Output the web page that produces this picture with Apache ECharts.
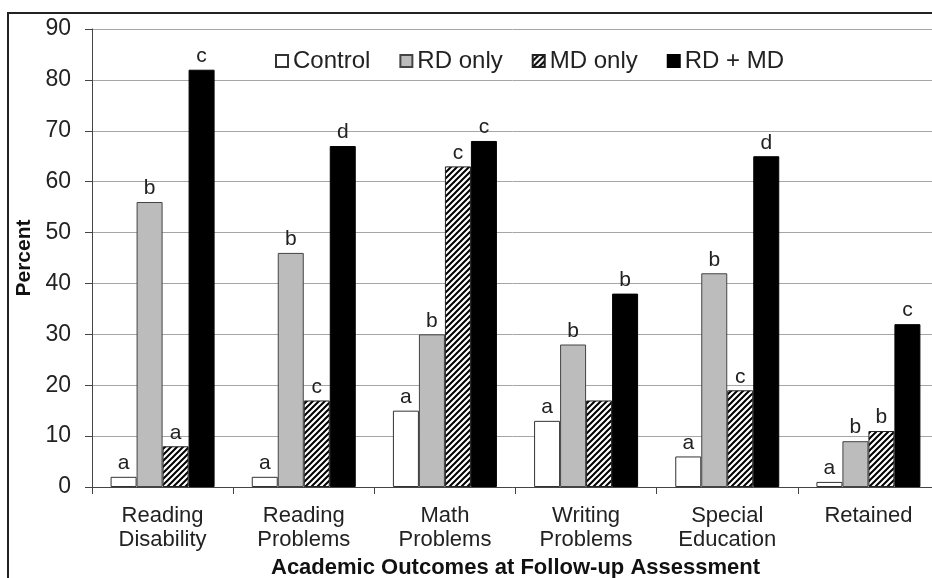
<!DOCTYPE html>
<html>
<head>
<meta charset="utf-8">
<script src="https://cdn.jsdelivr.net/npm/echarts@6/dist/echarts.min.js"></script>
<style>
  html, body { margin: 0; padding: 0; background: #fff; }
  #main { width: 932px; height: 578px; }
</style>
</head>
<body>
<div id="main"></div>
<script>
const categories = [
  "Reading\nDisability",
  "Reading\nProblems",
  "Math\nProblems",
  "Writing\nProblems",
  "Special\nEducation",
  "Retained"
];
const control = [2, 2, 15, 13, 6, 1];
const rdOnly = [56, 46, 30, 28, 42, 9];
const mdOnly = [8, 17, 63, 17, 19, 11];
const rdMd = [82, 67, 68, 38, 65, 32];

// significance letters shown above bars
const controlLetters = ["a", "a", "a", "a", "a", "a"];
const rdOnlyLetters = ["b", "b", "b", "b", "b", "b"];
const mdOnlyLetters = ["a", "c", "c", "", "c", "b"];
const rdMdLetters = ["c", "d", "c", "b", "d", "c"];

const yTicks = { min: 0, max: 90, interval: 10 };

// diagonal hatch for MD only
function makeHatch() {
  const c = document.createElement("canvas");
  c.width = 6;
  c.height = 6;
  const ctx = c.getContext("2d");
  ctx.fillStyle = "#fff";
  ctx.fillRect(0, 0, 6, 6);
  ctx.strokeStyle = "#000";
  ctx.lineWidth = 2;
  ctx.beginPath();
  ctx.moveTo(-1, 7); ctx.lineTo(7, -1);
  ctx.moveTo(-4, 4); ctx.lineTo(4, -4);
  ctx.moveTo(2, 10); ctx.lineTo(10, 2);
  ctx.stroke();
  return c;
}
const hatch = { image: makeHatch(), repeat: "repeat" };

const font = "Liberation Sans, Arial, sans-serif";

function labelFor(letters) {
  return {
    show: true,
    position: "top",
    distance: 3,
    fontFamily: font,
    fontSize: 21,
    color: "#222",
    formatter: (p) => letters[p.dataIndex]
  };
}

function barSeries(name, data, letters, itemStyle) {
  return {
    name: name,
    type: "bar",
    data: data,
    barWidth: 26,
    barGap: "0%",
    itemStyle: itemStyle,
    label: labelFor(letters),
    silent: true
  };
}

const chart = echarts.init(document.getElementById("main"));
chart.setOption({
  animation: false,
  textStyle: { fontFamily: font },
  graphic: [
    {
      type: "rect",
      shape: { x: 8, y: 13, width: 940, height: 600 },
      style: { fill: "none", stroke: "#222", lineWidth: 2 },
      silent: true
    }
  ],
  legend: {
    left: 270,
    top: 44,
    itemWidth: 12,
    itemHeight: 12,
    itemGap: 29,
    icon: "rect",
    textStyle: { fontFamily: font, fontSize: 24, color: "#222" },
    data: ["Control", "RD only", "MD only", "RD + MD"]
  },
  grid: {
    left: 92, top: 29, width: 847, height: 458,
    outerBoundsMode: "none", containLabel: false
  },
  xAxis: {
    type: "category",
    data: categories,
    name: "Academic Outcomes at Follow-up Assessment",
    nameLocation: "middle",
    nameGap: 68,
    nameTextStyle: {
      fontFamily: font,
      fontSize: 22,
      fontWeight: "bold",
      color: "#111"
    },
    axisLine: { lineStyle: { color: "#444", width: 1 } },
    axisTick: { show: true, length: 7, lineStyle: { color: "#444" } },
    axisLabel: {
      fontFamily: font,
      fontSize: 22,
      lineHeight: 24,
      color: "#222",
      margin: 17,
      interval: 0
    },
    splitLine: { show: false }
  },
  yAxis: {
    type: "value",
    min: yTicks.min,
    max: yTicks.max,
    interval: yTicks.interval,
    name: "Percent",
    nameLocation: "middle",
    nameGap: 55,
    nameRotate: 90,
    nameTextStyle: {
      fontFamily: font,
      fontSize: 21,
      fontWeight: "bold",
      color: "#111"
    },
    axisLine: { show: true, lineStyle: { color: "#444", width: 1 } },
    axisTick: { show: true, length: 7, lineStyle: { color: "#444" } },
    axisLabel: {
      fontFamily: font,
      fontSize: 23,
      color: "#222",
      margin: 21
    },
    splitLine: { lineStyle: { color: "#a6a6a6", width: 1 } }
  },
  series: [
    barSeries("Control", control, controlLetters, {
      color: "#fff", borderColor: "#333", borderWidth: 1
    }),
    barSeries("RD only", rdOnly, rdOnlyLetters, {
      color: "#bcbcbc", borderColor: "#444", borderWidth: 1
    }),
    barSeries("MD only", mdOnly, mdOnlyLetters, {
      color: hatch, borderColor: "#222", borderWidth: 1
    }),
    barSeries("RD + MD", rdMd, rdMdLetters, {
      color: "#000", borderColor: "#000", borderWidth: 1
    })
  ]
});
</script>
</body>
</html>
